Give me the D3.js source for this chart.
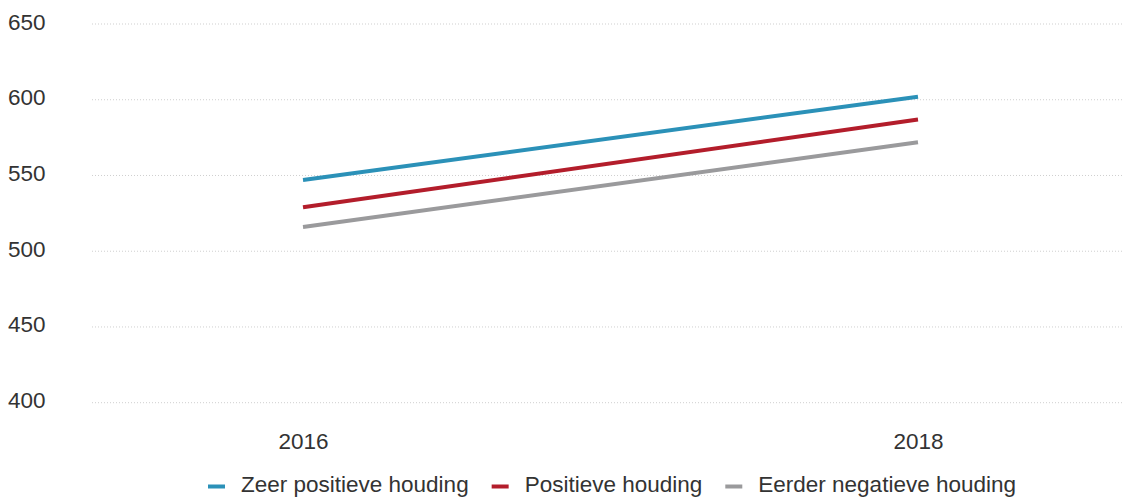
<!DOCTYPE html>
<html>
<head>
<meta charset="utf-8">
<script src="https://cdn.jsdelivr.net/npm/d3@7"></script>
<style>
  html, body { margin: 0; padding: 0; background: #fff; }
  svg { display: block; font-family: "Liberation Sans", Arial, Helvetica, sans-serif; }
</style>
</head>
<body>
<svg id="chart" width="1122" height="497"></svg>
<script>
// Jaren op de x-as
const years = ["2016", "2018"];
// Reeksen
const seriesNames = ["Zeer positieve houding", "Positieve houding", "Eerder negatieve houding"];
const zeerPositief = [547, 602];
const positief = [529, 587];
const eerderNegatief = [516, 572];
const seriesColors = ["#2b91b8", "#b31d2b", "#9a9a9c"];
// Waarden op de y-as
const yTicks = [400, 450, 500, 550, 600, 650];

const series = [zeerPositief, positief, eerderNegatief].map((vals, i) => ({
  name: seriesNames[i],
  color: seriesColors[i],
  values: vals.map((v, j) => ({ year: years[j], value: v }))
}));

const svg = d3.select("#chart");
const textColor = "#333333";
const fontSize = 22.5;

const y = d3.scaleLinear().domain([400, 650]).range([402.7, 24]);
const x = d3.scalePoint().domain(years).range([303, 918]);

// Rasterlijnen
const grid = svg.append("g");
grid.selectAll("line")
  .data(yTicks)
  .join("line")
  .attr("x1", 92)
  .attr("x2", 1122)
  .attr("y1", d => y(d))
  .attr("y2", d => y(d))
  .attr("stroke", "#cfcfcf")
  .attr("stroke-width", 1)
  .attr("stroke-dasharray", "1 2");

// Y-as labels (links uitgelijnd, net boven de rasterlijn)
const yAxis = d3.axisLeft(y).tickValues(yTicks).tickSize(0).tickPadding(0);
const yg = svg.append("g").attr("transform", "translate(8,0)").call(yAxis);
yg.select(".domain").remove();
yg.selectAll("text")
  .attr("text-anchor", "start")
  .attr("x", 0)
  .attr("y", 5)
  .attr("dy", 0)
  .attr("fill", textColor)
  .style("font-size", fontSize + "px")
  .style("font-family", "Liberation Sans, Arial, sans-serif");

// X-as labels
const xAxis = d3.axisBottom(x).tickSize(0).tickPadding(0);
const xg = svg.append("g").attr("transform", "translate(0,448.5)").call(xAxis);
xg.select(".domain").remove();
xg.selectAll("text")
  .attr("y", 0)
  .attr("dy", 0)
  .attr("fill", textColor)
  .style("font-size", fontSize + "px")
  .style("font-family", "Liberation Sans, Arial, sans-serif");

// Lijnen
const line = d3.line().x(d => x(d.year)).y(d => y(d.value));
svg.append("g").selectAll("path")
  .data(series)
  .join("path")
  .attr("d", d => line(d.values))
  .attr("fill", "none")
  .attr("stroke", d => d.color)
  .attr("stroke-width", 4);

// Legenda
const legend = svg.append("g");
const items = legend.selectAll("g")
  .data(series)
  .join("g");
items.append("line")
  .attr("x1", 0).attr("x2", 17)
  .attr("y1", 0).attr("y2", 0)
  .attr("stroke", d => d.color)
  .attr("stroke-width", 4);
items.append("text")
  .attr("x", 33)
  .attr("y", 5.5)
  .attr("fill", textColor)
  .style("font-size", fontSize + "px")
  .text(d => d.name);

let cursor = 0;
const offsets = [];
items.each(function () {
  const w = d3.select(this).select("text").node().getComputedTextLength();
  offsets.push(cursor);
  cursor += 33 + w + 23;
});
const total = cursor - 23;
const startX = 612 - total / 2;
items.attr("transform", (d, i) => `translate(${startX + offsets[i]},486.5)`);
</script>
</body>
</html>
